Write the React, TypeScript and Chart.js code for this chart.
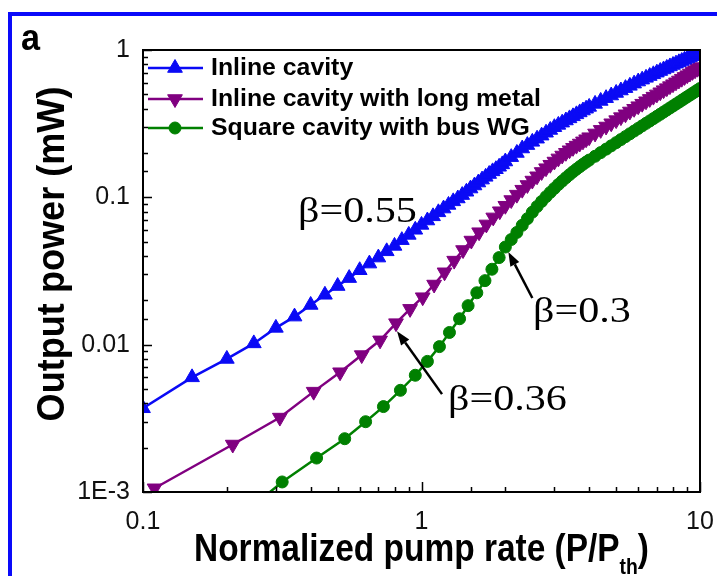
import React, { useEffect, useRef } from 'react';
import { Chart, registerables } from 'chart.js';

Chart.register(...registerables);

// ---- data: normalized pump rate (P/Pth) vs output power (mW) ----
const seriesNames = ['Inline cavity', 'Inline cavity with long metal', 'Square cavity with bus WG'];

const inlineX = [
  0.1, 0.15, 0.2, 0.25, 0.3, 0.35, 0.4, 0.45, 0.5, 0.55, 0.6, 0.65, 0.7, 0.75, 0.8, 0.85, 0.9, 0.95,
  1.0, 1.05, 1.1, 1.15, 1.2, 1.25, 1.3, 1.35, 1.4, 1.45, 1.5, 1.55, 1.6, 1.65, 1.7, 1.75, 1.8, 1.85, 1.9, 1.95,
  2.0, 2.1, 2.2, 2.3, 2.4, 2.5, 2.6, 2.7, 2.8, 2.9, 3.0, 3.1, 3.2, 3.3, 3.4, 3.5, 3.6, 3.7, 3.8, 3.9,
  4.0, 4.2, 4.4, 4.6, 4.8, 5.0, 5.2, 5.4, 5.6, 5.8, 6.0, 6.2, 6.4, 6.6, 6.8, 7.0, 7.2, 7.4, 7.6, 7.8,
  8.0, 8.2, 8.4, 8.6, 8.8, 9.0, 9.2, 9.4, 9.6, 9.8, 10.0,
];
const inlineY = [
  0.0037, 0.006, 0.008, 0.0102, 0.013, 0.0155, 0.0186, 0.0218, 0.025, 0.0283, 0.032, 0.0355, 0.039, 0.043, 0.0468, 0.0512, 0.0556, 0.0602,
  0.065, 0.0696, 0.0743, 0.0791, 0.0839, 0.0888, 0.0939, 0.0982, 0.1036, 0.1091, 0.1147, 0.1203, 0.126, 0.1319, 0.1378, 0.1439, 0.15, 0.1551, 0.1612, 0.1673,
  0.175, 0.1874, 0.2, 0.2145, 0.2262, 0.238, 0.25, 0.2622, 0.2745, 0.2867, 0.2992, 0.3102, 0.3212, 0.3323, 0.3434, 0.3546, 0.3657, 0.3769, 0.3882, 0.3994,
  0.411, 0.4308, 0.451, 0.471, 0.4909, 0.511, 0.5309, 0.551, 0.571, 0.591, 0.6109, 0.6291, 0.6473, 0.6655, 0.6837, 0.7017, 0.7197, 0.7376, 0.7555, 0.7734,
  0.7912, 0.808, 0.8249, 0.8416, 0.8582, 0.8746, 0.8913, 0.9077, 0.9241, 0.9404, 0.957,
];

const metalX = [
  0.11, 0.21, 0.31, 0.41, 0.51, 0.61, 0.71, 0.81, 0.91, 1.01, 1.11, 1.21, 1.31, 1.41, 1.51, 1.61, 1.71, 1.81, 1.91,
  2.0, 2.1, 2.2, 2.3, 2.4, 2.5, 2.6, 2.7, 2.8, 2.9, 3.0, 3.1, 3.2, 3.3, 3.4, 3.5, 3.6, 3.7, 3.8, 3.9,
  4.0, 4.2, 4.4, 4.6, 4.8, 5.0, 5.2, 5.4, 5.6, 5.8, 6.0, 6.2, 6.4, 6.6, 6.8, 7.0, 7.2, 7.4, 7.6, 7.8,
  8.0, 8.2, 8.4, 8.6, 8.8, 9.0, 9.2, 9.4, 9.6, 9.8, 10.0,
];
const metalY = [
  0.00106, 0.0021, 0.0032, 0.0048, 0.0065, 0.0085, 0.0107, 0.014, 0.0175, 0.021, 0.0256, 0.031, 0.0372, 0.0439, 0.0509, 0.058, 0.0655, 0.0731, 0.0805,
  0.0877, 0.0959, 0.1043, 0.1127, 0.1213, 0.13, 0.139, 0.1487, 0.1577, 0.1665, 0.175, 0.1838, 0.1923, 0.2006, 0.2088, 0.2168, 0.2245, 0.232, 0.24, 0.248,
  0.256, 0.2714, 0.287, 0.3026, 0.3183, 0.3343, 0.3503, 0.3664, 0.3827, 0.3991, 0.4156, 0.4322, 0.449, 0.4657, 0.4826, 0.4997, 0.5168, 0.534, 0.551, 0.5687,
  0.5861, 0.6036, 0.6212, 0.6389, 0.6568, 0.6746, 0.6925, 0.7105, 0.7287, 0.7469, 0.7656,
];

const squareX = [
  0.21, 0.316, 0.42, 0.53, 0.63, 0.73, 0.84, 0.95, 1.05, 1.16, 1.26, 1.37, 1.47, 1.58, 1.69, 1.79, 1.9,
  2.0, 2.1, 2.2, 2.3, 2.4, 2.5, 2.6, 2.7, 2.8, 2.9, 3.0, 3.1, 3.2, 3.3, 3.4, 3.5, 3.6, 3.7, 3.8, 3.9,
  4.0, 4.2, 4.4, 4.6, 4.8, 5.0, 5.2, 5.4, 5.6, 5.8, 6.0, 6.2, 6.4, 6.6, 6.8, 7.0, 7.2, 7.4, 7.6, 7.8,
  8.0, 8.2, 8.4, 8.6, 8.8, 9.0, 9.2, 9.4, 9.6, 9.8, 10.0,
];
const squareY = [
  0.00062, 0.00117, 0.0017, 0.0023, 0.003, 0.0038, 0.0049, 0.0062, 0.0077, 0.0097, 0.0121, 0.015, 0.0184, 0.0225, 0.0272, 0.0325, 0.039,
  0.046, 0.0517, 0.0578, 0.0646, 0.0716, 0.0793, 0.0866, 0.0938, 0.101, 0.108, 0.115, 0.1221, 0.1289, 0.1357, 0.1424, 0.1489, 0.1553, 0.1615, 0.1676, 0.1734,
  0.179, 0.19, 0.2012, 0.2124, 0.2236, 0.2351, 0.2466, 0.2582, 0.2699, 0.2817, 0.2937, 0.3056, 0.3177, 0.3298, 0.342, 0.3544, 0.3667, 0.3792, 0.3917, 0.4044,
  0.417, 0.4298, 0.4427, 0.4556, 0.4686, 0.4815, 0.4947, 0.5078, 0.521, 0.5343, 0.5477,
];

const xTickValues = [0.1, 1, 10];
const xTickLabels = ['0.1', '1', '10'];
const yTickValues = [0.001, 0.01, 0.1, 1];
const yTickLabels = ['1E-3', '0.01', '0.1', '1'];

// spontaneous-emission factors marked on the curves
const betaLabels = ['β=0.55', 'β=0.36', 'β=0.3'];
// which data point each arrow points at: [series index, point index]
const betaTargets: [number, number][] = [[1, 7], [2, 17]];

// ---- styling ----
const COLORS = ['rgb(10,10,245)', 'rgb(128,0,128)', 'rgb(0,128,0)'];
const MARKERS = ['up', 'down', 'circle'];
const TRI_R = 8.5;
const DOT_R = 6;
const SANS = "'Liberation Sans', Arial, sans-serif";
const SERIF = "'Liberation Serif', 'Times New Roman', serif";

const isDecade = (v: number) => Math.abs(Math.log10(v) - Math.round(Math.log10(v))) < 1e-6;

function labelFor(values: number[], labels: string[], v: number) {
  for (let i = 0; i < values.length; i++) {
    if (Math.abs(values[i] - v) / values[i] < 1e-6) return labels[i];
  }
  return '';
}

function drawMarker(ctx: CanvasRenderingContext2D, kind: string, x: number, y: number, r: number, color: string) {
  ctx.save();
  ctx.fillStyle = color;
  ctx.strokeStyle = color;
  ctx.lineWidth = 1;
  ctx.beginPath();
  if (kind === 'circle') {
    ctx.arc(x, y, r, 0, Math.PI * 2);
  } else {
    const s = kind === 'up' ? 1 : -1;
    for (let k = 0; k < 3; k++) {
      const a = (k * 2 * Math.PI) / 3;
      const px = x + Math.sin(a) * r;
      const py = y - s * Math.cos(a) * r;
      if (k === 0) ctx.moveTo(px, py);
      else ctx.lineTo(px, py);
    }
    ctx.closePath();
  }
  ctx.fill();
  ctx.stroke();
  ctx.restore();
}

function drawText(ctx: CanvasRenderingContext2D, text: string, x: number, y: number, font: string, sx: number, align: CanvasTextAlign = 'left', baseline: CanvasTextBaseline = 'alphabetic') {
  ctx.save();
  ctx.font = font;
  ctx.textAlign = align;
  ctx.textBaseline = baseline;
  ctx.fillStyle = '#000';
  ctx.translate(x, y);
  ctx.scale(sx, 1);
  ctx.fillText(text, 0, 0);
  ctx.restore();
}

function drawArrow(ctx: CanvasRenderingContext2D, x1: number, y1: number, x2: number, y2: number) {
  const ang = Math.atan2(y2 - y1, x2 - x1);
  const head = 14;
  const half = 5;
  const bx = x2 - Math.cos(ang) * head;
  const by = y2 - Math.sin(ang) * head;
  ctx.save();
  ctx.strokeStyle = '#000';
  ctx.fillStyle = '#000';
  ctx.lineWidth = 2.5;
  ctx.beginPath();
  ctx.moveTo(x1, y1);
  ctx.lineTo(bx, by);
  ctx.stroke();
  ctx.beginPath();
  ctx.moveTo(x2, y2);
  ctx.lineTo(bx - Math.sin(ang) * half, by + Math.cos(ang) * half);
  ctx.lineTo(bx + Math.sin(ang) * half, by - Math.cos(ang) * half);
  ctx.closePath();
  ctx.fill();
  ctx.restore();
}

const decorPlugin = {
  id: 'decor',
  afterDraw(chart: any) {
    const { ctx, chartArea: a } = chart;
    const xs = chart.scales.x;
    const ys = chart.scales.y;

    // frame around the plot
    ctx.save();
    ctx.strokeStyle = '#000';
    ctx.lineWidth = 2;
    ctx.strokeRect(a.left, a.top, a.right - a.left, a.bottom - a.top);

    // inward major/minor tick marks on bottom and left axes
    ctx.lineWidth = 1.5;
    ctx.beginPath();
    for (const t of xs.ticks) {
      const p = Math.round(xs.getPixelForValue(t.value)) + 0.5;
      const len = isDecade(t.value) ? 10 : 5;
      ctx.moveTo(p, a.bottom);
      ctx.lineTo(p, a.bottom - len);
    }
    for (const t of ys.ticks) {
      const p = Math.round(ys.getPixelForValue(t.value)) + 0.5;
      const len = isDecade(t.value) ? 9 : 5;
      ctx.moveTo(a.left, p);
      ctx.lineTo(a.left + len, p);
    }
    ctx.stroke();
    ctx.restore();

    // legend
    const rows = [68, 99, 128];
    seriesNames.forEach((name, i) => {
      const y = rows[i];
      ctx.save();
      ctx.strokeStyle = COLORS[i];
      ctx.lineWidth = 2.5;
      ctx.beginPath();
      ctx.moveTo(148, y);
      ctx.lineTo(203, y);
      ctx.stroke();
      ctx.restore();
      drawMarker(ctx, MARKERS[i], 175, y, MARKERS[i] === 'circle' ? DOT_R : TRI_R, COLORS[i]);
      drawText(ctx, name, 211, y + 1, `bold 23px ${SANS}`, 1.08, 'left', 'middle');
    });

    // axis titles
    const cx = (a.left + a.right) / 2;
    const tFont = `bold 38px ${SANS}`;
    const subFont = `bold 22px ${SANS}`;
    const sx = 0.88;
    ctx.save();
    ctx.font = tFont;
    const main = 'Normalized pump rate (P/P';
    const wMain = ctx.measureText(main).width * sx;
    const wClose = ctx.measureText(')').width * sx;
    ctx.font = subFont;
    const wSub = ctx.measureText('th').width * sx;
    ctx.restore();
    const x0 = cx - (wMain + wSub + wClose) / 2;
    drawText(ctx, main, x0, 561, tFont, sx);
    drawText(ctx, 'th', x0 + wMain, 574, subFont, sx);
    drawText(ctx, ')', x0 + wMain + wSub, 561, tFont, sx);

    ctx.save();
    ctx.translate(64, 254);
    ctx.rotate(-Math.PI / 2);
    drawText(ctx, 'Output power (mW)', 0, 0, tFont, 0.95, 'center');
    ctx.restore();

    // panel letter
    drawText(ctx, 'a', 21, 50, `bold 36px ${SANS}`, 0.95);

    // beta annotations
    const bFont = `36px ${SERIF}`;
    drawText(ctx, betaLabels[0], 298, 222, bFont, 1.17);
    drawText(ctx, betaLabels[1], 448, 410, bFont, 1.17);
    drawText(ctx, betaLabels[2], 533, 322, bFont, 1.17);

    const pt = (s: number, k: number) => {
      const xv = [inlineX, metalX, squareX][s][k];
      const yv = [inlineY, metalY, squareY][s][k];
      return [xs.getPixelForValue(xv), ys.getPixelForValue(yv)];
    };
    const [px1, py1] = pt(betaTargets[0][0], betaTargets[0][1]);
    drawArrow(ctx, px1 + 46, py1 + 71, px1 + 1, py1 + 8);
    const [px2, py2] = pt(betaTargets[1][0], betaTargets[1][1]);
    drawArrow(ctx, px2 + 27, py2 + 51, px2 + 3, py2 + 5);
  },
};

function toPoints(xs: number[], ys: number[]) {
  return xs.map((x, i) => ({ x, y: ys[i] }));
}

const noScalePadding = (s: any) => {
  s.paddingLeft = 0;
  s.paddingRight = 0;
  s.paddingTop = 0;
  s.paddingBottom = 0;
};

export default function App() {
  const canvasRef = useRef<HTMLCanvasElement | null>(null);

  useEffect(() => {
    if (!canvasRef.current) return;
    const data = [toPoints(inlineX, inlineY), toPoints(metalX, metalY), toPoints(squareX, squareY)];
    const chart = new Chart(canvasRef.current, {
      type: 'line',
      data: {
        datasets: seriesNames.map((name, i) => {
          const r = MARKERS[i] === 'circle' ? DOT_R : TRI_R;
          return {
            label: name,
            data: data[i],
            borderColor: COLORS[i],
            backgroundColor: COLORS[i],
            borderWidth: 2.5,
            tension: 0,
            pointStyle: MARKERS[i] === 'circle' ? 'circle' : 'triangle',
            pointRotation: MARKERS[i] === 'down' ? 180 : 0,
            pointRadius: r,
            pointHoverRadius: r,
            pointBorderWidth: 1,
            pointBorderColor: COLORS[i],
            pointBackgroundColor: COLORS[i],
          };
        }),
      },
      options: {
        animation: false,
        responsive: true,
        maintainAspectRatio: false,
        layout: { padding: { top: 50, right: 17, left: 0, bottom: 0 } },
        plugins: { legend: { display: false }, tooltip: { enabled: false } },
        scales: {
          x: {
            type: 'logarithmic',
            min: 0.1,
            max: 10,
            grid: { display: false, drawTicks: false, tickLength: 0 },
            border: { display: false },
            afterFit: (s: any) => {
              s.height = 84;
              noScalePadding(s);
            },
            ticks: {
              autoSkip: false,
              maxRotation: 0,
              padding: 15,
              color: '#111',
              font: { family: SANS, size: 25 },
              callback: (v: any) => labelFor(xTickValues, xTickLabels, Number(v)),
            },
          },
          y: {
            type: 'logarithmic',
            min: 0.001,
            max: 1,
            grid: { display: false, drawTicks: false, tickLength: 0 },
            border: { display: false },
            afterFit: (s: any) => {
              s.width = 143;
              noScalePadding(s);
            },
            ticks: {
              autoSkip: false,
              padding: 13,
              color: '#111',
              font: { family: SANS, size: 25 },
              callback: (v: any) => labelFor(yTickValues, yTickLabels, Number(v)),
            },
          },
        },
      },
      plugins: [decorPlugin],
    });
    return () => chart.destroy();
  }, []);

  return (
    <div style={{ position: 'fixed', left: 0, top: 0, width: 717, height: 576, overflow: 'hidden', background: '#fff' }}>
      <div
        style={{
          position: 'absolute',
          left: 8,
          top: 12,
          width: 760,
          height: 620,
          borderTop: '4px solid rgb(10,10,250)',
          borderLeft: '4px solid rgb(10,10,250)',
        }}
      />
      <canvas ref={canvasRef} style={{ position: 'absolute', left: 0, top: 0 }} />
    </div>
  );
}
